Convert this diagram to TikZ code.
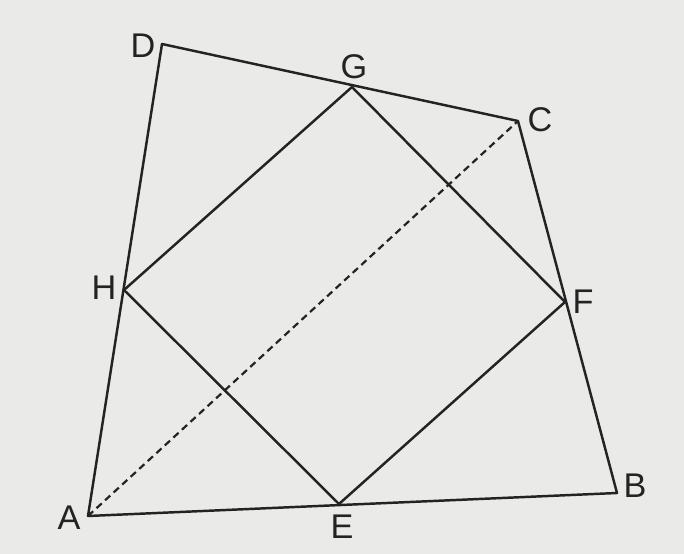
\documentclass[tikz,border=0pt]{standalone}
\usepackage{fontspec}
\setmainfont{Liberation Sans}
\definecolor{paper}{RGB}{234,234,233}
\definecolor{ink}{RGB}{35,35,35}
\begin{document}
\begin{tikzpicture}[x=0.02cm, y=-0.02cm, font=\fontsize{19.5}{19.5}\selectfont, line join=round, line cap=round, line width=1.4pt]
\fill[paper]	(0,0) rectangle (684,554);
\coordinate (A) at (88,516);	\coordinate (B) at (617,493);
\coordinate (C) at (518,121);	\coordinate (D) at (162,44);
\coordinate (E) at (339,504);	\coordinate (F) at (565,302);
\coordinate (G) at (352,87);	\coordinate (H) at (124,290);
\draw[ink]	(A)--(B)--(C)--(D)--cycle;
\draw[ink]	(E)--(F)--(G)--(H)--cycle;
\draw[ink,line width=1.25pt,line cap=butt,dash pattern=on 4pt off 2.6pt]	(A)--(C);
\node[ink] (lA) at (69,518) {A};
\node[ink] (lB) at (635,486) {B};
\node[ink] (lC) at (540,120) {C};
\node[ink] (lD) at (143,46) {D};
\node[ink] (lE) at (342,527) {E};
\node[ink] (lF) at (583,302) {F};
\node[ink] (lG) at (354,67) {G};
\node[ink] (lH) at (104,288) {H};
\end{tikzpicture}
\end{document}
